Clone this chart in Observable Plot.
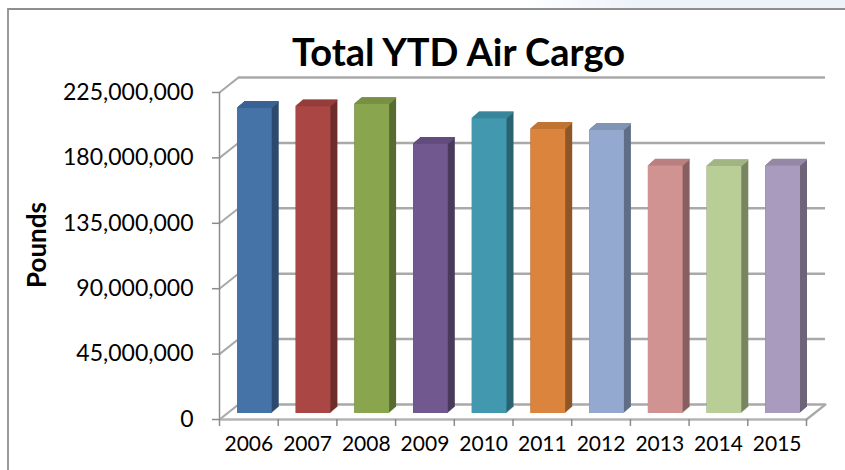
<!DOCTYPE html>
<html>
<head>
<meta charset="utf-8">
<script src="https://cdn.jsdelivr.net/npm/d3@7"></script>
<script src="https://cdn.jsdelivr.net/npm/@observablehq/plot@0.6"></script>
<style>
  html, body { margin: 0; padding: 0; background: white; }
  #wrap { position: relative; width: 845px; height: 470px; overflow: hidden; }
  #frame { position: absolute; left: 7px; top: 8px; width: 900px; height: 500px;
           border-left: 2px solid #9a9a9a; border-top: 2px solid #8e8e8e; pointer-events: none; }
  #tint { position: absolute; left: 520px; top: 0; width: 325px; height: 8px;
          background: linear-gradient(to right, rgba(238,243,249,0), #eef3f9 35%); }
</style>
</head>
<body>
<div id="wrap">
  <div id="tint"></div>
  <div id="chart"></div>
  <div id="frame"></div>
</div>
<script>
const years = ["2006", "2007", "2008", "2009", "2010", "2011", "2012", "2013", "2014", "2015"];
const pounds = [210.3e6, 211.4e6, 213.0e6, 185.6e6, 203.2e6, 195.9e6, 195.2e6, 170.6e6, 170.2e6, 170.6e6];
const faceColors = ["#4572a7", "#aa4643", "#89a54e", "#71588f", "#4198af", "#db843d", "#93a9cf", "#d19392", "#b9cd96", "#a99bbd"];
const sideColors = ["#2c4a6e", "#6e2c2b", "#586b31", "#493a5c", "#2a6271", "#8e5527", "#5f6e86", "#875f5f", "#788561", "#6d647a"];
const topColors  = ["#3b6394", "#953d3a", "#779043", "#634d7e", "#39859a", "#c07434", "#8194b6", "#b88180", "#a3b484", "#9588a6"];
const yTicks = [0, 45e6, 90e6, 135e6, 180e6, 225e6];
const title = "Total YTD Air Cargo";
const yLabel = "Pounds";

const data = years.map((year, i) => ({
  i, year, value: pounds[i], face: faceColors[i], side: sideColors[i], top: topColors[i]
}));
const indices = years.map((_, i) => i);
const boundaries = d3.range(-0.5, years.length, 1);

const depthSteps = d3.range(0, 8);
const lineShape = { draw(context, l) { context.moveTo(0, 0); context.lineTo(0, -l); } };
const gridColor = "#a9a9a9";
const axisColor = "#8c8c8c";

const barOpts = {
  x1: d => d.i - 0.5, x2: d => d.i + 0.5, y1: 0, y2: "value",
  insetLeft: 18, insetRight: 6
};

const marks = [
  Plot.ruleY(yTicks, { y: d => d, dx: 19, dy: -15, stroke: gridColor, strokeWidth: 2.5 }),
  Plot.vector(yTicks, { x: -0.5, y: d => d, length: 24, rotate: 51.7, anchor: "start",
    shape: lineShape, stroke: gridColor, strokeWidth: 2 }),
  Plot.vector([0], { x: 9.5, y: d => d, length: 24, rotate: 51.7, anchor: "start",
    shape: lineShape, stroke: gridColor, strokeWidth: 2.5 }),
  Plot.ruleY([0], { stroke: "#b4b4b4", strokeWidth: 2.5 }),
  Plot.ruleX([-0.5], { y1: 0, y2: 225e6, stroke: axisColor, strokeWidth: 1.5 }),
  ...depthSteps.map(k => Plot.rect(data, { ...barOpts, fill: "side", dx: k, dy: -6 - k * 6 / 7 })),
  Plot.rect(data, { ...barOpts, fill: "face", dy: -6 }),
  ...depthSteps.slice(1).map(k => Plot.ruleY(data, {
    y: "value", x1: d => d.i - 0.5, x2: d => d.i + 0.5, insetLeft: 18, insetRight: 6,
    dx: k, dy: -6 - k * 6 / 7, stroke: "top", strokeWidth: 1.6
  })),
  Plot.axisY(yTicks, { anchor: "left", label: null, tickSize: 7, tickPadding: 19, tickFormat: d3.format(","),
    fontSize: 23, stroke: axisColor, fill: "black", strokeWidth: 1.5 }),
  Plot.axisX(boundaries, { anchor: "bottom", label: null, tickSize: 7, tickFormat: () => "",
    stroke: axisColor, strokeWidth: 1.5 }),
  Plot.axisX(indices, { anchor: "bottom", label: null, tickSize: 0, tickPadding: 17, tickFormat: i => years[i],
    fontSize: 21, fill: "black" }),
  Plot.text([title], { frameAnchor: "top-left", dx: 458 - 219, dy: -27, textAnchor: "middle",
    lineAnchor: "bottom", fontSize: 38, fontWeight: "bold", fill: "black" }),
  Plot.text([yLabel], { frameAnchor: "left", dx: -182, dy: -11, rotate: -90, textAnchor: "middle",
    lineAnchor: "middle", fontSize: 26, fontWeight: "bold", fill: "black" })
];

const chart = Plot.plot({
  width: 845,
  height: 470,
  marginLeft: 219,
  marginRight: 39,
  marginTop: 92,
  marginBottom: 51,
  style: { fontFamily: "Lato", background: "transparent", color: "black", overflow: "visible" },
  x: { type: "linear", domain: [-0.5, 9.5], label: null },
  y: { domain: [0, 225e6], label: null },
  marks
});
document.getElementById("chart").appendChild(chart);
</script>
</body>
</html>
